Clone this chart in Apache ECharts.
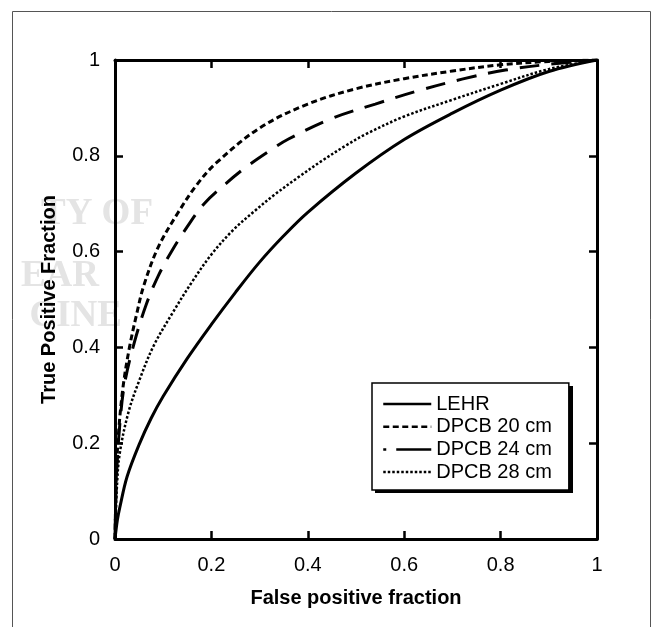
<!DOCTYPE html>
<html>
<head>
<meta charset="utf-8">
<script src="https://cdn.jsdelivr.net/npm/echarts@6/dist/echarts.min.js"></script>
<style>html,body{margin:0;padding:0;background:#fff;}#c{width:653px;height:627px;}</style>
</head>
<body>
<div id="c"></div>
<script>
// Tick labels
const xTicks = [0, 0.2, 0.4, 0.6, 0.8, 1];
const yTicks = [0, 0.2, 0.4, 0.6, 0.8, 1];
const seriesNames = ['LEHR', 'DPCB 20 cm', 'DPCB 24 cm', 'DPCB 28 cm'];

// ROC curves: false positive fraction (x) and true positive fraction (y)
const lehrX = [0, 0.005, 0.01, 0.025, 0.05, 0.075, 0.1, 0.15, 0.2, 0.25, 0.3, 0.35, 0.4, 0.5, 0.6, 0.7, 0.8, 0.9, 1];
const lehrY = [0, 0.04, 0.066, 0.13, 0.197, 0.252, 0.298, 0.377, 0.448, 0.515, 0.578, 0.633, 0.682, 0.764, 0.834, 0.889, 0.937, 0.976, 1];

const dpcb20X = [0, 0.003, 0.008, 0.017, 0.03, 0.045, 0.06, 0.09, 0.13, 0.17, 0.21, 0.3, 0.4, 0.5, 0.6, 0.7, 0.8, 0.9, 1];
const dpcb20Y = [0, 0.14, 0.23, 0.32, 0.40, 0.47, 0.53, 0.61, 0.68, 0.74, 0.785, 0.858, 0.908, 0.94, 0.961, 0.977, 0.99, 0.997, 1];

const dpcb24X = [0, 0.003, 0.01, 0.02, 0.04, 0.065, 0.09, 0.12, 0.15, 0.185, 0.23, 0.27, 0.32, 0.36, 0.45, 0.54, 0.63, 0.72, 0.81, 0.9, 1];
const dpcb24Y = [0, 0.13, 0.24, 0.325, 0.41, 0.49, 0.55, 0.605, 0.652, 0.70, 0.742, 0.775, 0.81, 0.835, 0.878, 0.908, 0.936, 0.96, 0.979, 0.991, 1];

const dpcb28X = [0, 0.004, 0.01, 0.028, 0.05, 0.08, 0.12, 0.16, 0.2, 0.245, 0.29, 0.33, 0.38, 0.43, 0.48, 0.52, 0.6, 0.7, 0.8, 0.9, 1];
const dpcb28Y = [0, 0.11, 0.18, 0.265, 0.33, 0.403, 0.473, 0.537, 0.594, 0.645, 0.685, 0.718, 0.755, 0.79, 0.822, 0.845, 0.882, 0.917, 0.95, 0.981, 1];

const FONT = 'Liberation Sans, Arial, Helvetica, sans-serif';
const chart = echarts.init(document.getElementById('c'), null, {renderer: 'canvas'});

const zip = (xs, ys) => xs.map((x, i) => [x, ys[i]]);
const tickCommon = {show: true, inside: true, length: 8, lineStyle: {color: '#000', width: 2.5}};
const lineCommon = {show: true, onZero: false, lineStyle: {color: '#000', width: 3}};
const tickFmt = ticks => v => { const i = ticks.findIndex(t => Math.abs(t - v) < 1e-9); return i >= 0 ? String(ticks[i]) : ''; };

function mkSeries(name, data, type, width) {
  return {
    name: name, type: 'line', data: data, symbol: 'none', smooth: 0.35,
    xAxisIndex: 0, yAxisIndex: 0, z: 3,
    itemStyle: {color: '#000'},
    lineStyle: {color: '#000', width: width, type: type, cap: 'butt'}
  };
}

chart.setOption({
  animation: false,
  backgroundColor: '#fff',
  grid: {left: 115, top: 60, right: 56, bottom: 88},
  graphic: [
    {type: 'rect', shape: {x: 12.5, y: 11.5, width: 638, height: 700}, style: {fill: 'none', stroke: '#555', lineWidth: 1}, z: -10, silent: true},
    {type: 'text', right: 653 - 153, top: 196, style: {text: 'TY OF', fill: '#e4e4e4', font: 'bold 37px Liberation Serif, serif'}, z: -5, silent: true},
    {type: 'text', right: 653 - 99, top: 258, style: {text: 'EAR', fill: '#e4e4e4', font: 'bold 37px Liberation Serif, serif'}, z: -5, silent: true},
    {type: 'text', right: 653 - 122, top: 298, style: {text: 'CINE', fill: '#e4e4e4', font: 'bold 37px Liberation Serif, serif'}, z: -5, silent: true},
    // legend drop shadow
    {type: 'rect', shape: {x: 375, y: 386, width: 198, height: 107}, style: {fill: '#000'}, z: 3, silent: true}
  ],
  xAxis: [
    {type: 'value', position: 'bottom', min: 0, max: 1, interval: 0.2,
     name: 'False positive fraction', nameLocation: 'middle', nameGap: 49,
     nameTextStyle: {fontFamily: FONT, fontSize: 20, fontWeight: 'bold', color: '#000'},
     axisLine: lineCommon, axisTick: tickCommon, splitLine: {show: false},
     axisLabel: {show: true, margin: 16, fontFamily: FONT, fontSize: 20, color: '#000', formatter: tickFmt(xTicks)}},
    {type: 'value', position: 'top', min: 0, max: 1, interval: 0.2,
     axisLine: lineCommon, axisTick: tickCommon, splitLine: {show: false}, axisLabel: {show: false}}
  ],
  yAxis: [
    {type: 'value', position: 'left', min: 0, max: 1, interval: 0.2,
     name: 'True Positive Fraction', nameLocation: 'middle', nameGap: 56, nameRotate: 90,
     nameTextStyle: {fontFamily: FONT, fontSize: 20, fontWeight: 'bold', color: '#000'},
     axisLine: lineCommon, axisTick: tickCommon, splitLine: {show: false},
     axisLabel: {show: true, margin: 15, fontFamily: FONT, fontSize: 20, color: '#000', formatter: tickFmt(yTicks)}},
    {type: 'value', position: 'right', min: 0, max: 1, interval: 0.2,
     axisLine: lineCommon, axisTick: tickCommon, splitLine: {show: false}, axisLabel: {show: false}}
  ],
  legend: {
    show: true, orient: 'vertical', left: 372, top: 383, z: 5,
    data: [
      {name: seriesNames[0]},
      {name: seriesNames[1]},
      {name: seriesNames[2], lineStyle: {type: [3, 10, 35, 10]}},
      {name: seriesNames[3]}
    ],
    itemWidth: 48, itemHeight: 16, itemGap: 2.7,
    padding: [11, 17, 8, 10],
    backgroundColor: '#fff', borderColor: '#000', borderWidth: 1.5, borderRadius: 0,
    itemStyle: {opacity: 0, color: 'rgba(0,0,0,0)', borderWidth: 0},
    lineStyle: {width: 2.5},
    textStyle: {fontFamily: FONT, fontSize: 20, color: '#000'},
    selectedMode: false
  },
  series: [
    mkSeries(seriesNames[0], zip(lehrX, lehrY), 'solid', 3),
    mkSeries(seriesNames[1], zip(dpcb20X, dpcb20Y), [6, 3.5], 3),
    mkSeries(seriesNames[2], zip(dpcb24X, dpcb24Y), [20, 12], 3),
    mkSeries(seriesNames[3], zip(dpcb28X, dpcb28Y), [2.5, 2], 2.5)
  ]
});
</script>
</body>
</html>
